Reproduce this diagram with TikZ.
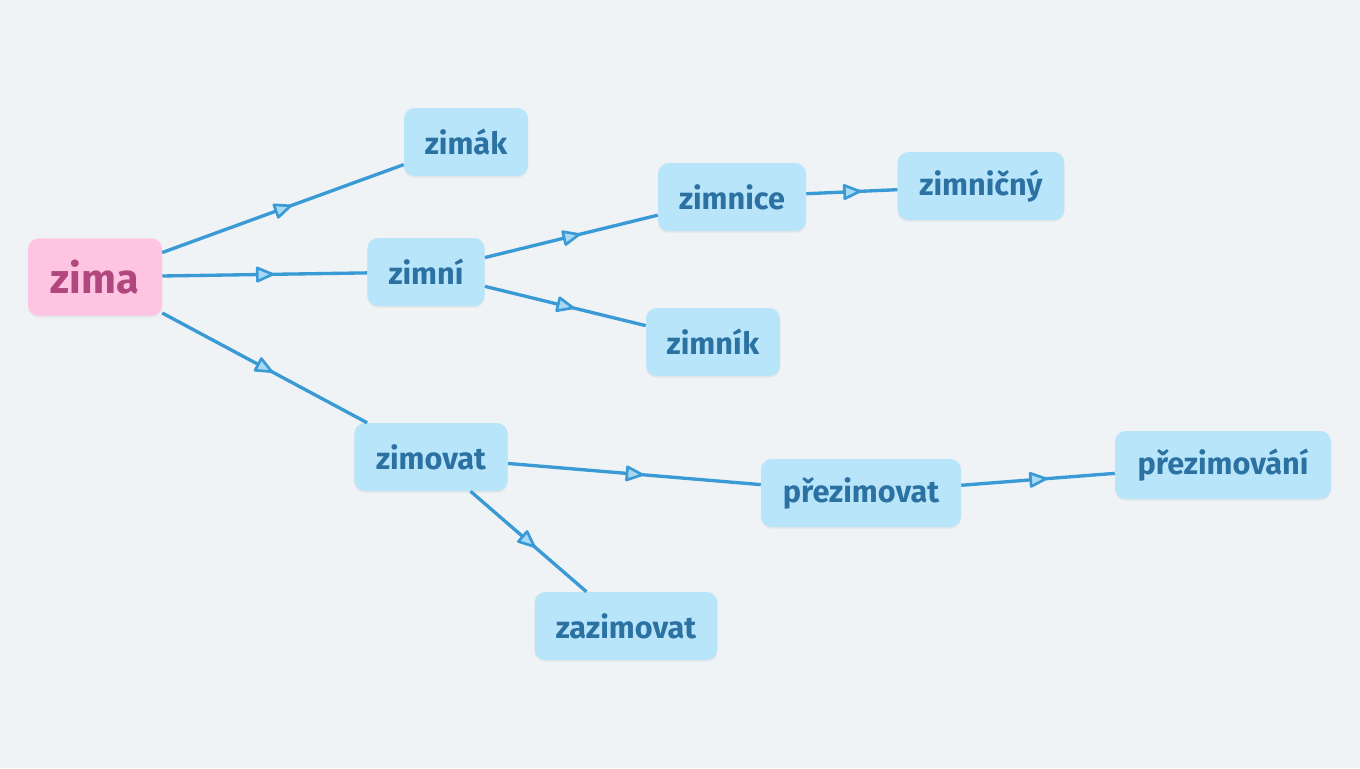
\documentclass[tikz,border=0pt]{standalone}
\usepackage{fontspec}
\setmainfont{Fira Sans}
\usetikzlibrary{arrows.meta,decorations.markings,shadows}
\definecolor{bg}{HTML}{F0F3F5}
\definecolor{nodefill}{HTML}{B9E5FB}
\definecolor{nodetext}{HTML}{2B72A3}
\definecolor{rootfill}{HTML}{FFC4E1}
\definecolor{roottext}{HTML}{B0477F}
\definecolor{edge}{HTML}{3A9AD6}
\definecolor{tipfill}{HTML}{A9D9F2}
\tikzset{
  word/.style={draw=none, fill=nodefill, rounded corners=8pt, minimum height=51pt,
    text=nodetext, font=\fontsize{23}{27}\selectfont\bfseries, inner sep=0pt,
    drop shadow={opacity=0.12, shadow xshift=0pt, shadow yshift=-1.2pt}},
  rootword/.style={word, fill=rootfill, text=roottext, minimum height=58pt,
    font=\fontsize{31}{36}\selectfont\bfseries},
  midtip/.style={draw=edge, fill=tipfill, line width=2pt, line join=round},
  link/.style={draw=edge, line width=2.5pt, postaction={decorate},
    decoration={markings, mark=at position 0.5 with {\path[midtip] (-5.5pt,-5pt) -- (6pt,0pt) -- (-5.5pt,5pt) -- cycle;}}}
}
\begin{document}
\begin{tikzpicture}[x=0.75pt,y=-0.75pt]
\fill[bg] (0,0) rectangle (1360,768);
\useasboundingbox (0,0) rectangle (1360,768);
\node[rootword, minimum width=100.5pt] (zima) at (95,277) {zima};
\node[word, minimum width=93pt] (zimak) at (466,142) {zimák};
\node[word, minimum width=88pt] (zimni) at (426,272) {zimní};
\node[word, minimum width=111pt] (zimnice) at (732,197) {zimnice};
\node[word, minimum width=125pt] (zimnicny) at (981,186) {zimničný};
\node[word, minimum width=100.5pt] (zimnik) at (713,342) {zimník};
\node[word, minimum width=115pt] (zimovat) at (431,457) {zimovat};
\node[word, minimum width=150pt] (prezimovat) at (861,493) {přezimovat};
\node[word, minimum width=162pt] (prezimovani) at (1223,465) {přezimování};
\node[word, minimum width=137pt] (zazimovat) at (626,626) {zazimovat};
\draw[link] (zima) -- (zimak);
\draw[link] (zima) -- (zimni);
\draw[link] (zima) -- (zimovat);
\draw[link] (zimni) -- (zimnice);
\draw[link] (zimni) -- (zimnik);
\draw[link] (zimnice) -- (zimnicny);
\draw[link] (zimovat) -- (prezimovat);
\draw[link] (zimovat) -- (zazimovat);
\draw[link] (prezimovat) -- (prezimovani);
\end{tikzpicture}
\end{document}
